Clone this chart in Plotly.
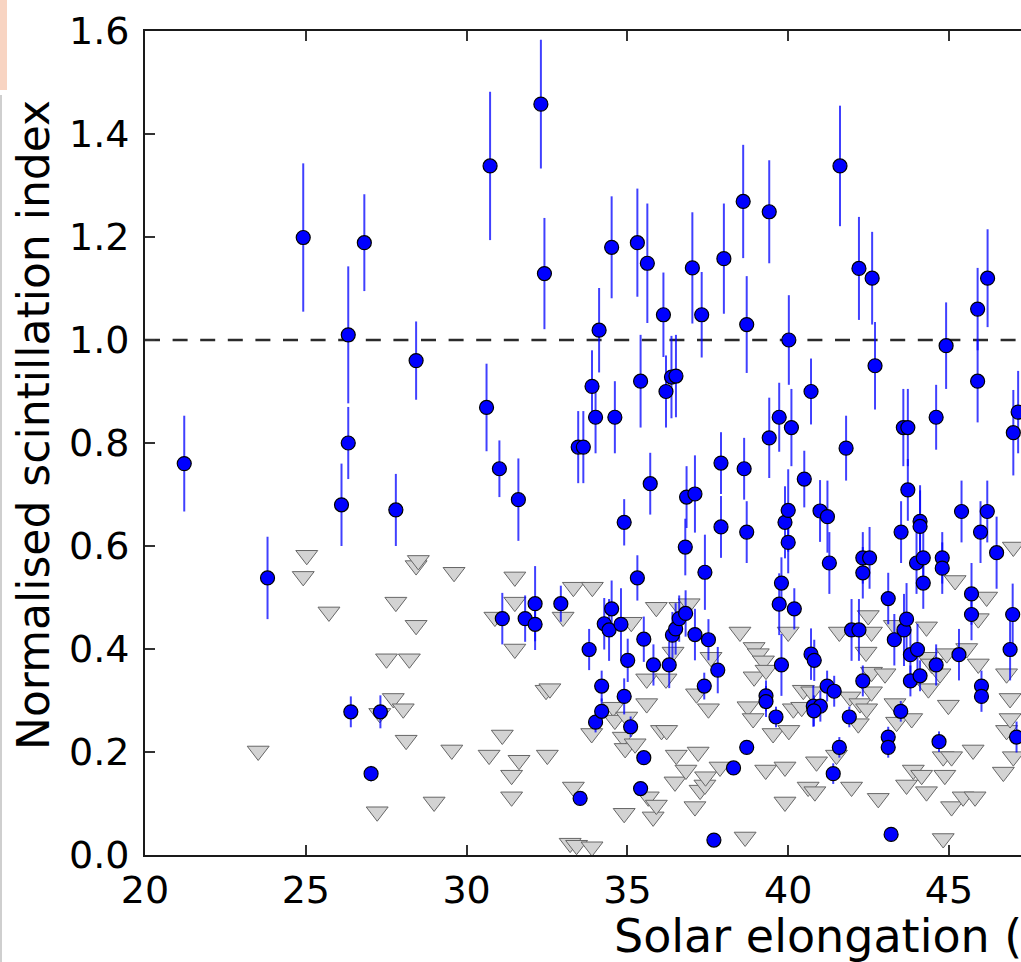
import plotly.graph_objects as go

# ---------------- data ----------------
det_x = [21.22, 23.81, 24.92, 26.11, 26.32, 26.32, 26.82, 26.40, 27.32, 27.03, 27.80, 28.43,
         30.62, 30.73, 31.02, 31.61, 31.11, 31.82, 32.13, 32.13, 32.31, 32.42, 32.93, 33.47,
         33.63, 33.53, 33.81, 33.90, 34.01, 34.01, 34.12, 34.20, 34.20, 34.28, 34.43, 34.51,
         34.51, 34.61, 34.80, 34.90, 34.90, 35.01, 35.10, 35.31, 35.31, 35.41, 35.41, 35.51,
         35.51, 35.62, 35.71, 35.81, 36.12, 36.20, 36.30, 36.37, 36.51, 36.40, 36.50, 36.61,
         36.81, 36.80, 36.84, 37.02, 37.10, 37.10, 37.31, 37.39, 37.41, 37.52, 37.69, 37.81,
         37.91, 37.91, 38.00, 38.30, 38.60, 38.63, 38.71, 38.71, 38.71, 39.31, 39.31, 39.41,
         39.41, 39.62, 39.72, 39.72, 39.79, 39.79, 39.90, 40.00, 40.00, 40.02, 40.10, 40.19,
         40.50, 40.71, 40.71, 40.81, 40.78, 41.00, 40.80, 40.99, 41.22, 41.21, 41.43, 41.28,
         41.40, 41.59, 41.61, 41.80, 41.90, 41.97, 42.20, 42.20, 42.32, 42.53, 42.32, 42.32,
         42.61, 42.70, 43.11, 43.11, 43.11, 43.20, 43.30, 43.50, 43.51, 43.58, 43.72, 43.72,
         43.60, 43.68, 43.80, 43.80, 43.99, 44.10, 44.10, 44.10, 44.02, 44.20, 44.20, 44.60,
         44.60, 44.69, 44.79, 44.79, 44.91, 45.31, 45.39, 45.70, 45.70, 45.89, 45.89, 45.98,
         46.01, 46.01, 46.19, 46.20, 46.48, 46.90, 46.98, 47.00, 47.15, 47.10]
det_y = [0.760, 0.538, 1.199, 0.680, 1.010, 0.800, 1.189, 0.278, 0.278, 0.158, 0.670, 0.960,
         0.869, 1.338, 0.750, 0.690, 0.459, 0.459, 0.488, 0.448, 1.458, 1.129, 0.488, 0.792,
         0.792, 0.110, 0.399, 0.910, 0.850, 0.258, 1.019, 0.328, 0.279, 0.449, 0.437, 1.180,
         0.478, 0.850, 0.448, 0.646, 0.308, 0.378, 0.249, 1.189, 0.538, 0.920, 0.129, 0.419,
         0.189, 1.149, 0.721, 0.369, 1.049, 0.900, 0.369, 0.928, 0.930, 0.427, 0.439, 0.459,
         0.469, 0.598, 0.695, 1.140, 0.701, 0.428, 1.049, 0.328, 0.549, 0.418, 0.029, 0.359,
         0.761, 0.637, 1.158, 0.169, 1.269, 0.750, 1.030, 0.627, 0.209, 0.309, 0.298, 1.249,
         0.810, 0.268, 0.850, 0.487, 0.528, 0.369, 0.646, 0.669, 0.607, 1.000, 0.830, 0.478,
         0.730, 0.900, 0.390, 0.378, 0.289, 0.289, 0.280, 0.668, 0.657, 0.328, 0.318, 0.567,
         0.158, 0.209, 1.338, 0.790, 0.268, 0.437, 0.437, 1.139, 0.577, 0.577, 0.548, 0.338,
         1.120, 0.950, 0.498, 0.229, 0.209, 0.040, 0.418, 0.279, 0.627, 0.830, 0.830, 0.709,
         0.437, 0.458, 0.389, 0.338, 0.567, 0.648, 0.638, 0.348, 0.399, 0.577, 0.528, 0.850,
         0.369, 0.220, 0.577, 0.557, 0.989, 0.389, 0.667, 0.507, 0.467, 1.060, 0.920, 0.627,
         0.328, 0.308, 0.667, 1.120, 0.587, 0.399, 0.467, 0.820, 0.860, 0.229]
det_err = [0.093, 0.080, 0.144, 0.080, 0.133, 0.070, 0.094, 0.030, 0.032, 0.015, 0.070, 0.076,
           0.085, 0.144, 0.055, 0.080, 0.050, 0.045, 0.073, 0.050, 0.125, 0.108, 0.035, 0.070,
           0.070, 0.010, 0.040, 0.070, 0.070, 0.020, 0.082, 0.030, 0.025, 0.050, 0.060, 0.099,
           0.055, 0.070, 0.070, 0.045, 0.035, 0.042, 0.020, 0.105, 0.044, 0.090, 0.010, 0.044,
           0.010, 0.116, 0.060, 0.040, 0.082, 0.070, 0.045, 0.080, 0.080, 0.045, 0.050, 0.045,
           0.045, 0.055, 0.060, 0.108, 0.075, 0.050, 0.083, 0.026, 0.073, 0.040, 0.005, 0.045,
           0.060, 0.060, 0.107, 0.010, 0.110, 0.060, 0.094, 0.060, 0.010, 0.030, 0.030, 0.100,
           0.078, 0.020, 0.067, 0.060, 0.050, 0.060, 0.070, 0.080, 0.060, 0.087, 0.075, 0.040,
           0.055, 0.064, 0.050, 0.040, 0.040, 0.030, 0.030, 0.060, 0.070, 0.030, 0.030, 0.060,
           0.020, 0.020, 0.117, 0.063, 0.020, 0.060, 0.060, 0.100, 0.050, 0.060, 0.050, 0.030,
           0.090, 0.085, 0.050, 0.020, 0.020, 0.005, 0.050, 0.020, 0.060, 0.075, 0.075, 0.060,
           0.070, 0.070, 0.050, 0.030, 0.060, 0.070, 0.070, 0.030, 0.050, 0.060, 0.050, 0.063,
           0.040, 0.020, 0.050, 0.050, 0.084, 0.050, 0.060, 0.060, 0.050, 0.080, 0.080, 0.060,
           0.030, 0.030, 0.060, 0.095, 0.070, 0.060, 0.060, 0.083, 0.080, 0.030]

lim_x = [23.52, 24.92, 25.03, 25.72, 27.22, 27.30, 27.51, 27.72, 27.80, 28.03, 28.12, 28.22,
         28.43, 28.43, 28.50, 28.99, 29.54, 29.61, 30.70, 30.88, 31.11, 31.40, 31.40, 31.50,
         31.50, 31.50, 31.63, 32.47, 32.59, 32.51, 33.00, 33.22, 33.32, 33.32, 33.42, 33.89,
         33.90, 33.91, 34.56, 34.61, 34.87, 34.90, 34.93, 34.98, 35.12, 35.24, 35.60, 35.60,
         35.65, 35.80, 35.90, 35.90, 36.06, 36.20, 36.22, 36.42, 36.48, 36.52, 36.63, 36.82,
         36.92, 37.10, 37.15, 37.20, 37.26, 37.41, 37.43, 37.52, 37.60, 37.88, 38.50, 38.66,
         38.75, 38.94, 38.94, 38.91, 39.07, 39.23, 39.31, 39.30, 39.53, 39.90, 39.90, 40.00,
         40.02, 40.16, 40.42, 40.47, 40.62, 40.73, 40.83, 40.88, 41.50, 41.59, 41.92, 41.97,
         42.18, 42.23, 42.42, 42.44, 42.49, 42.59, 42.59, 42.59, 42.80, 43.01, 43.30, 43.32,
         43.37, 43.68, 43.84, 43.89, 44.15, 44.30, 44.30, 44.30, 44.36, 44.46, 44.72, 44.82,
         44.82, 44.87, 44.93, 44.98, 45.08, 45.08, 45.19, 45.44, 45.55, 45.75, 45.81, 45.91,
         45.91, 46.17, 46.69, 46.79, 46.79, 46.90, 46.90, 47.00, 47.00]
lim_y = [0.202, 0.541, 0.582, 0.472, 0.084, 0.275, 0.381, 0.304, 0.491, 0.284, 0.223, 0.381,
         0.446, 0.562, 0.572, 0.103, 0.204, 0.549, 0.194, 0.462, 0.233, 0.155, 0.113, 0.540,
         0.491, 0.400, 0.184, 0.320, 0.323, 0.194, 0.462, 0.023, 0.520, 0.132, 0.019, 0.236,
         0.016, 0.520, 0.287, 0.262, 0.229, 0.081, 0.207, 0.268, 0.452, 0.216, 0.342, 0.294,
         0.113, 0.074, 0.097, 0.481, 0.242, 0.342, 0.242, 0.394, 0.142, 0.194, 0.481, 0.165,
         0.488, 0.094, 0.313, 0.200, 0.126, 0.136, 0.152, 0.284, 0.384, 0.171, 0.433, 0.035,
         0.288, 0.403, 0.346, 0.265, 0.391, 0.377, 0.359, 0.165, 0.236, 0.171, 0.103, 0.433,
         0.242, 0.284, 0.287, 0.320, 0.132, 0.317, 0.123, 0.181, 0.194, 0.433, 0.307, 0.132,
         0.255, 0.294, 0.394, 0.284, 0.465, 0.433, 0.317, 0.355, 0.110, 0.352, 0.446, 0.294,
         0.258, 0.136, 0.265, 0.165, 0.155, 0.443, 0.384, 0.123, 0.323, 0.371, 0.352, 0.191,
         0.032, 0.155, 0.391, 0.291, 0.191, 0.094, 0.533, 0.113, 0.401, 0.204, 0.113, 0.459,
         0.371, 0.501, 0.161, 0.352, 0.242, 0.304, 0.265, 0.598, 0.191]

threshold = 1.0
x_ticks = [20, 25, 30, 35, 40, 45, 50]
y_ticks = [0.0, 0.2, 0.4, 0.6, 0.8, 1.0, 1.2, 1.4, 1.6]
x_title = "Solar elongation (°)"
y_title = "Normalised scintillation index"

# ---------------- figure ----------------
FONT = "DejaVu Sans"
W, H = 1021, 962
L, R, T, B = 145, 0, 31, 107
x_range = [20, 20 + (W - L - R) / 32.16]

fig = go.Figure()

fig.add_trace(go.Scatter(
    x=[x_ticks[0], x_ticks[-1]], y=[threshold, threshold], mode="lines",
    line=dict(color="#2b2b2b", width=2.6, dash="15px,12.6px"),
    hoverinfo="skip", showlegend=False))

fig.add_trace(go.Scatter(
    x=lim_x, y=lim_y, mode="markers",
    marker=dict(symbol="triangle-down", size=19, color="#d3d3d3",
                line=dict(color="#666666", width=1)),
    showlegend=False))

fig.add_trace(go.Scatter(
    x=det_x, y=det_y, mode="markers",
    error_y=dict(type="data", array=det_err, visible=True,
                 color="rgba(0,0,255,0.75)", thickness=2, width=0),
    marker=dict(symbol="circle", size=14, color="#0000ff",
                line=dict(color="#000000", width=1.2)),
    showlegend=False))

fig.update_layout(
    width=W, height=H,
    margin=dict(l=L, r=R, t=T, b=B, pad=0),
    paper_bgcolor="white", plot_bgcolor="white",
    font=dict(family=FONT, color="black"),
    showlegend=False,
)

fig.update_xaxes(
    range=x_range, tickvals=x_ticks, ticktext=[str(v) for v in x_ticks],
    showgrid=False, zeroline=False,
    showline=True, linecolor="#1a1a1a", linewidth=2, mirror="ticks",
    ticks="inside", ticklen=10, tickwidth=1.5, tickcolor="#333333",
    tickfont=dict(family=FONT, size=38, color="black"),
)
fig.update_yaxes(
    range=[0, 1.6], tickvals=y_ticks, ticktext=["%.1f" % v for v in y_ticks],
    showgrid=False, zeroline=False,
    showline=True, linecolor="#1a1a1a", linewidth=2, mirror=False,
    ticks="inside", ticklen=10, tickwidth=1.5, tickcolor="#333333",
    tickfont=dict(family=FONT, size=38, color="black"),
    ticklabelstandoff=6,
)

# axis titles as annotations (the reference is cropped on the right)
pw = W - L - R
ph = H - T - B
fig.add_annotation(
    text=x_title, xref="paper", yref="paper",
    x=(612 - L) / pw, y=0, xanchor="left", yanchor="top", yshift=-52,
    showarrow=False, font=dict(family=FONT, size=46, color="black"))
fig.add_annotation(
    text=y_title, xref="paper", yref="paper",
    x=(33 - L) / pw, y=(H - B - 425) / ph, xanchor="center", yanchor="middle",
    textangle=-90, showarrow=False, font=dict(family=FONT, size=44, color="black"))

# cropping artefacts at the left border of the reference image
fig.add_shape(type="line", xref="paper", yref="paper",
              x0=(1 - L) / pw, x1=(1 - L) / pw, y0=(H - B - 962) / ph, y1=(H - B - 95) / ph,
              line=dict(color="#cfcfcf", width=2))
fig.add_shape(type="rect", xref="paper", yref="paper",
              x0=(0 - L) / pw, x1=(7 - L) / pw, y0=(H - B - 90) / ph, y1=(H - B - 0) / ph,
              line=dict(width=0), fillcolor="rgba(240,160,120,0.45)")

fig.write_html("out.html")
